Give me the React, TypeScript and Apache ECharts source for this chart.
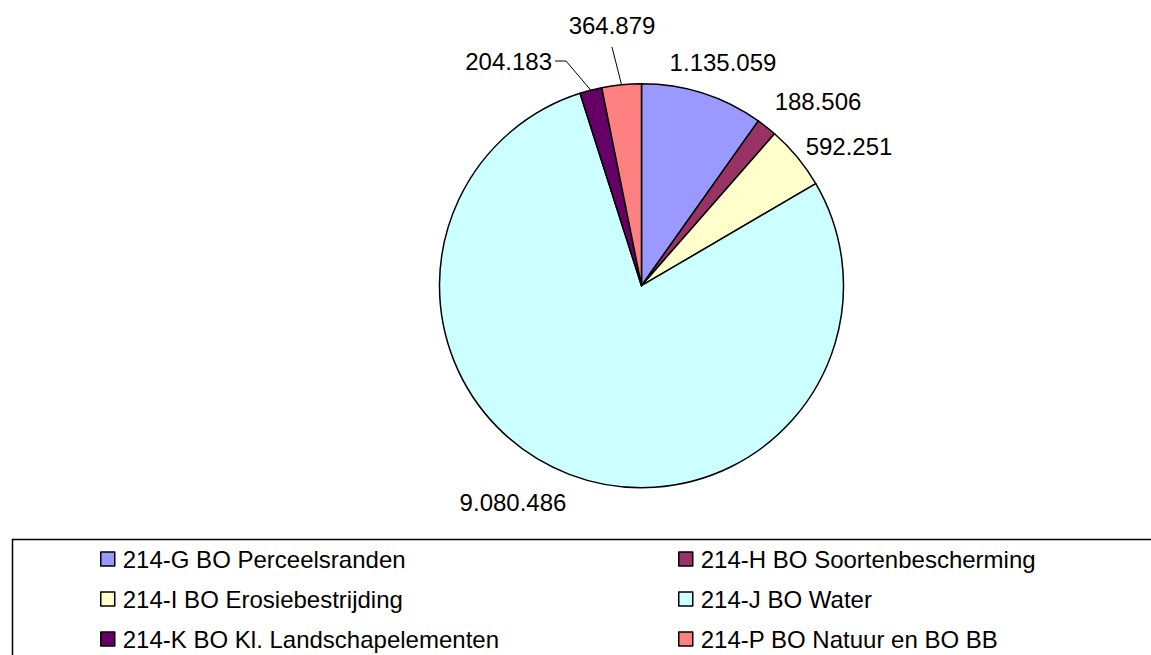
import React, { useEffect, useRef } from "react";
import * as echarts from "echarts";

const categories = [
  "214-G BO Perceelsranden",
  "214-H BO Soortenbescherming",
  "214-I BO Erosiebestrijding",
  "214-J BO Water",
  "214-K BO Kl. Landschapelementen",
  "214-P BO Natuur en BO BB",
];
const values = [1135059, 188506, 592251, 9080486, 204183, 364879];
const colors = ["#9999FF", "#993366", "#FFFFCC", "#CCFFFF", "#660066", "#FF8080"];
const legendCol1 = [categories[0], categories[2], categories[4]];
const legendCol2 = [categories[1], categories[3], categories[5]];

// label placement (text anchor), separate from data
const labelPlacement = [
  { x: 723, y: 62, align: "center" },
  { x: 818, y: 101, align: "center" },
  { x: 849, y: 146, align: "center" },
  { x: 513, y: 502, align: "center" },
  { x: 552, y: 61, align: "right" },
  { x: 612, y: 25, align: "center" },
];
// leader line bend points for labels that have one (null = no line)
const leaderBends: (number[][] | null)[] = [
  null,
  null,
  null,
  null,
  [[566, 61], [555, 61]],
  [[612, 47], [612, 47]],
];

const FONT = "'Liberation Sans', Arial, sans-serif";
const CX = 641.5;
const CY = 285.7;
const R = 202;

function fmt(v: number): string {
  return String(v).replace(/\B(?=(\d{3})+(?!\d))/g, ".");
}

export default function App() {
  const ref = useRef<HTMLDivElement>(null);
  useEffect(() => {
    if (!ref.current) return;
    const chart = echarts.init(ref.current, null, { renderer: "svg" });
    const total = values.reduce((a, b) => a + b, 0);
    let acc = 0;
    const edgePoints = values.map((v) => {
      const mid = ((acc + v / 2) / total) * Math.PI * 2;
      acc += v;
      return [CX + R * Math.sin(mid), CY - R * Math.cos(mid)];
    });
    const legendCommon = {
      orient: "vertical",
      icon: "rect",
      itemWidth: 14,
      itemHeight: 14,
      itemGap: 16,
      top: 547,
      height: 120,
      padding: 0,
      selectedMode: false,
      itemStyle: { borderColor: "#000", borderWidth: 1.5 },
      textStyle: {
        fontFamily: FONT,
        fontSize: 24,
        lineHeight: 24,
        color: "#000",
        padding: [0, 0, 0, 3],
      },
    };
    chart.setOption({
      animation: false,
      backgroundColor: "#fff",
      legend: [
        { ...legendCommon, left: 100, data: legendCol1 },
        { ...legendCommon, left: 678, data: legendCol2 },
      ],
      graphic: [
        {
          type: "rect",
          left: 10,
          top: 537,
          shape: { width: 1200, height: 200 },
          style: { fill: "none", stroke: "#000", lineWidth: 1.5 },
          silent: true,
        },
      ],
      series: [
        {
          type: "pie",
          center: [CX, CY],
          radius: [0, R],
          startAngle: 90,
          clockwise: true,
          avoidLabelOverlap: false,
          itemStyle: { borderColor: "#000", borderWidth: 1.5 },
          label: {
            show: true,
            position: "outside",
            fontFamily: FONT,
            fontSize: 24,
            color: "#000",
            formatter: (p: any) => fmt(p.value),
          },
          labelLine: {
            show: true,
            length: 10,
            length2: 10,
            lineStyle: { color: "#000", width: 1 },
          },
          labelLayout: (params: any) => {
            const i = params.dataIndex;
            const pl = labelPlacement[i];
            const res: any = {
              x: pl.x,
              y: pl.y,
              align: pl.align,
              verticalAlign: "middle",
            };
            const bends = leaderBends[i];
            if (bends) {
              res.labelLinePoints = [edgePoints[i], bends[0], bends[1]];
            }
            return res;
          },
          data: categories.map((name, i) => ({
            name,
            value: values[i],
            itemStyle: { color: colors[i] },
            labelLine: { show: leaderBends[i] !== null },
          })),
        },
      ],
    });
    return () => chart.dispose();
  }, []);
  return (
    <div
      ref={ref}
      style={{ position: "fixed", left: 0, top: 0, width: 1151, height: 655 }}
    />
  );
}
